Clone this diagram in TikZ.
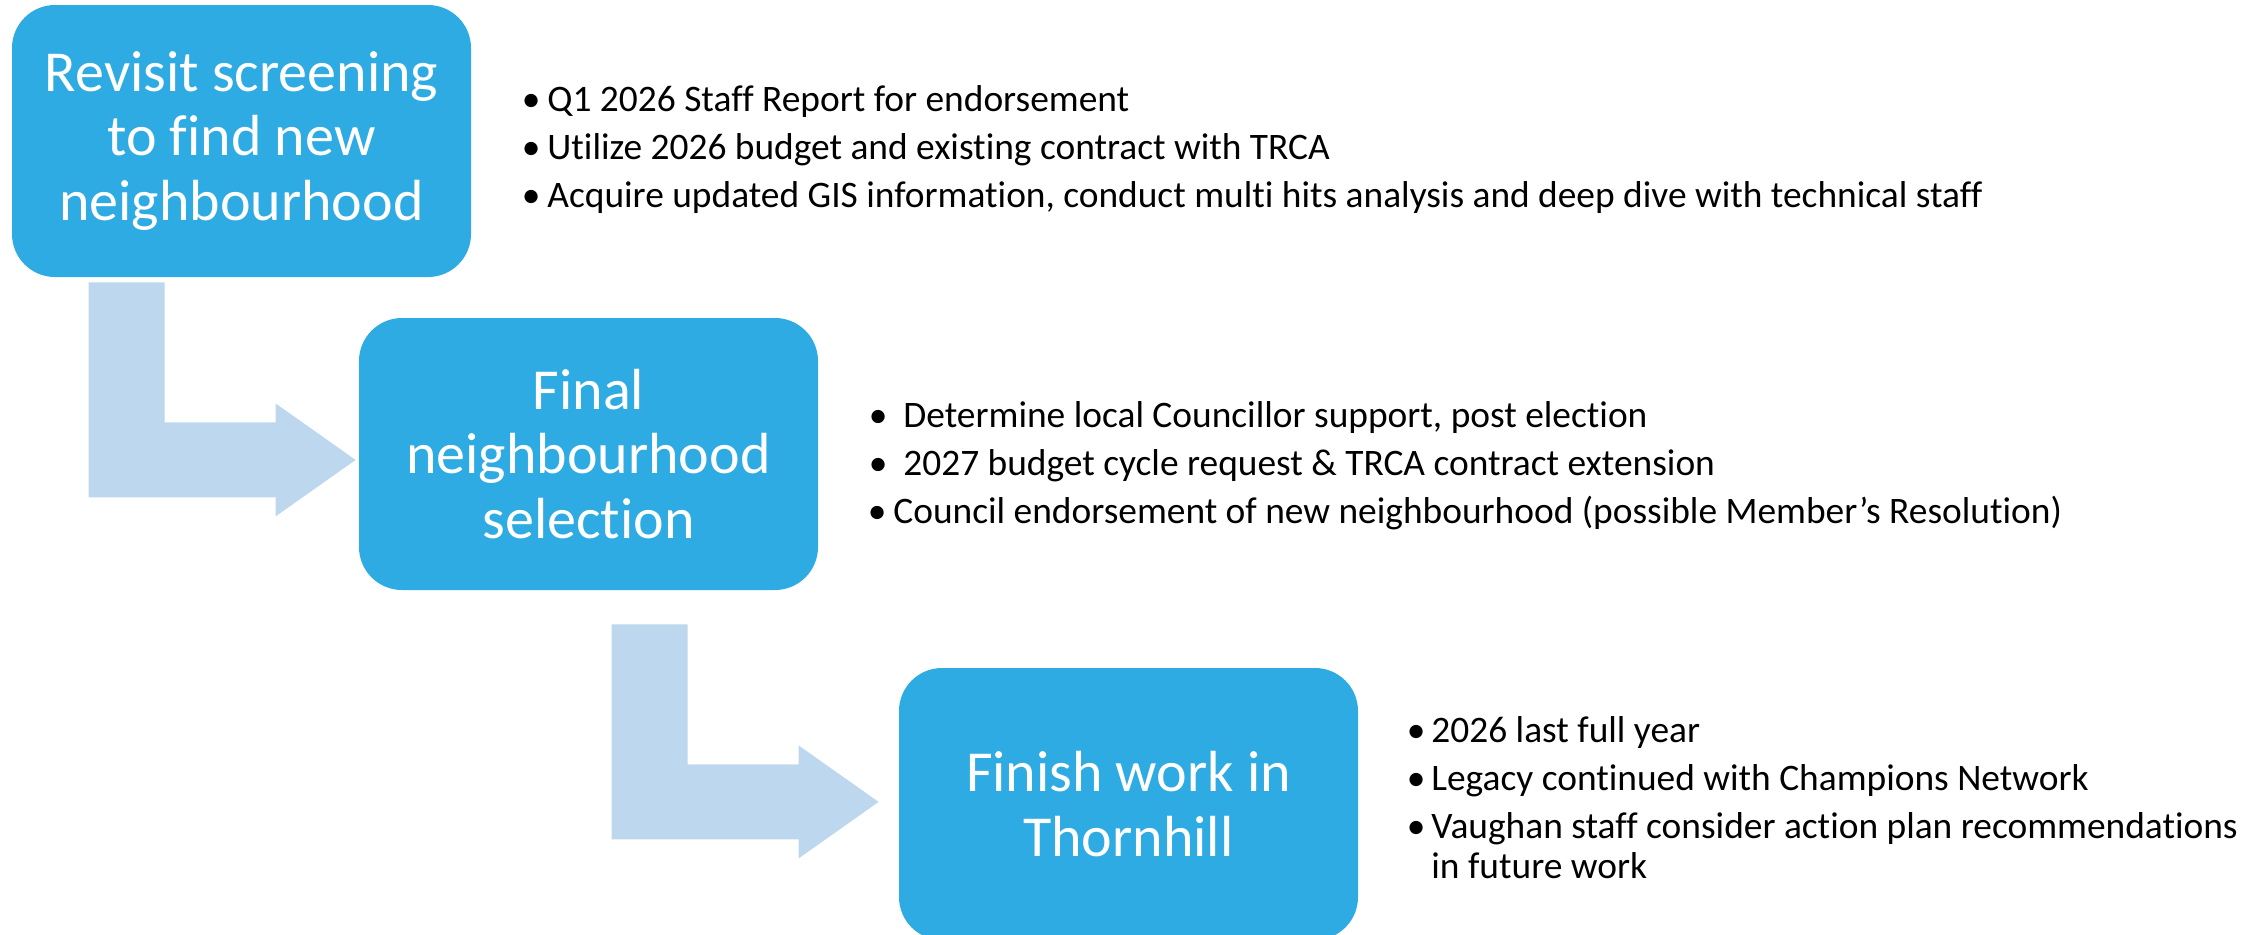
\documentclass[tikz,border=0pt]{standalone}
\usepackage{fontspec}
\setmainfont{Carlito}[Ligatures=NoCommon]
\usepackage{xcolor}
\usepackage{tikz}
\usetikzlibrary{calc}
\definecolor{stageblue}{RGB}{46, 171, 226}
\definecolor{arrowblue}{RGB}{189, 215, 238}
% bullet hung to the left of the text start
\newcommand{\listbullet}[1][3.5pt]{\makebox[0pt][r]{\textbullet\hspace{#1}}}

\begin{document}
\begin{tikzpicture}[x=0.5pt, y=-0.5pt,
    stagebox/.style={fill=stageblue, text=white, rounded corners=21.5pt,
        minimum width=229.5pt, minimum height=136pt, inner sep=0pt,
        align=center, font=\fontsize{29}{32.25}\selectfont},
    notes/.style={anchor=base west, inner sep=0pt, font=\fontsize{18.7}{20}\selectfont},
    bentarrow/.pic={\fill[arrowblue] (0,0) -- (76,0) -- (76,140) -- (187,140) -- (187,121)
        -- (267,177.5) -- (187,234) -- (187,215) -- (0,215) -- cycle;}]
    % Canvas
    \useasboundingbox (0,0) rectangle (2261,934);
    \clip (0,0) rectangle (2261,934);

    % Stages
    \node[stagebox] (screen) at (241.5,141) {Revisit screening\\to find new\\neighbourhood};
    \node[stagebox] (select) at (588.5,454) {Final\\neighbourhood\\selection};
    \node[stagebox] (finish) at (1128.5,804) {Finish work in\\Thornhill};

    % Bent arrows between the stages
    \pic at ($(screen.south west)+(77,5)$) {bentarrow};
    \pic at ($(select.south west)+(253,34)$) {bentarrow};

    % Notes beside each stage
    \node[notes] (screennotes) at (547,111) {\begin{tabular}[t]{@{}l@{}}
        \listbullet Q1 2026 Staff Report for endorsement\\[4pt]
        \listbullet Utilize 2026 budget and existing contract with TRCA\\[4pt]
        \listbullet Acquire updated GIS information, conduct multi hits analysis and deep dive with technical staff
    \end{tabular}};
    \node[notes] (selectnotes) at (893,427) {\begin{tabular}[t]{@{}l@{}}
        \hspace*{5pt}\listbullet[8pt]Determine local Councillor support, post election\\[4pt]
        \hspace*{5pt}\listbullet[8pt]2027 budget cycle request \& TRCA contract extension\\[4pt]
        \listbullet[3.5pt]Council endorsement of new neighbourhood (possible Member’s Resolution)
    \end{tabular}};
    \node[notes] (finishnotes) at (1431,742) {\begin{tabular}[t]{@{}l@{}}
        \listbullet[3pt]2026 last full year\\[4pt]
        \listbullet[3pt]Legacy continued with Champions Network\\[4pt]
        \listbullet[3pt]Vaughan staff consider action plan recommendations\\
        in future work
    \end{tabular}};
\end{tikzpicture}
\end{document}
